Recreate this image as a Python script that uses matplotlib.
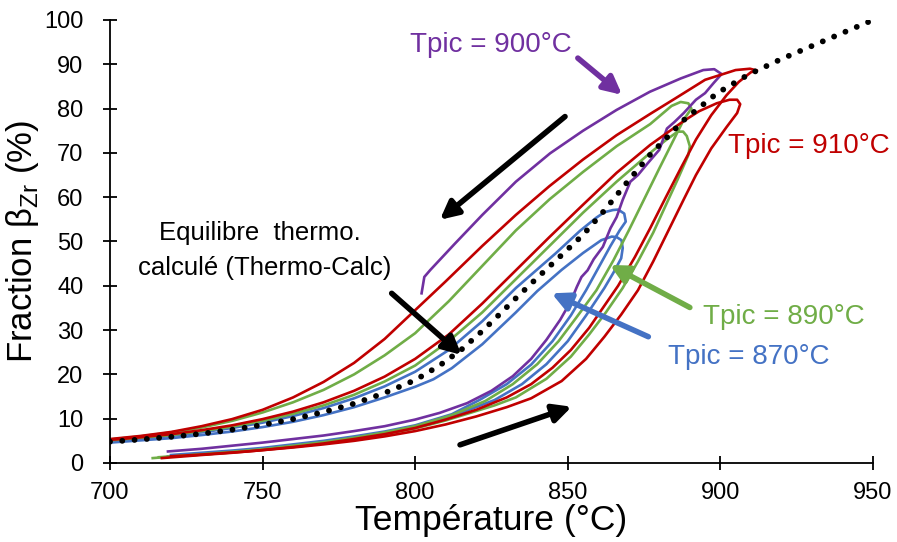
import matplotlib.pyplot as plt

plt.rcParams['font.family'] = ['Liberation Sans', 'DejaVu Sans']

# boucles mesurees : chauffage puis refroidissement (T en degC, fraction en %)
violet900_T = [719, 730, 740, 750, 760, 770, 780, 790, 800, 808, 817, 825, 832, 838, 843, 847.5, 851, 853, 854.5,
               856.5, 858.5, 861.5, 864, 866, 868, 870.5, 873, 876, 880, 882.5, 885, 888, 892, 895, 897.7, 900.4,
               898, 894.4, 887, 876.9, 866, 855, 844.2, 833, 822, 813, 805, 803, 802.1]
violet900_f = [2.6, 3.2, 3.9, 4.6, 5.4, 6.2, 7.2, 8.3, 9.8, 11.3, 13.5, 16.3, 19.6, 23.5, 27.8, 32.3, 36.5, 39.8, 42,
               43.5, 46, 48.8, 53, 55.5, 59.4, 63.5, 65, 67.5, 70.7, 75.5, 77, 79, 82, 83.5, 85.7, 87.8,
               88.9, 88.7, 86.8, 83.8, 79.7, 75, 69.9, 63.5, 56, 49.5, 43.6, 42, 38.3]

rouge910_T = [717, 730, 740, 750, 760, 770, 780, 790, 800, 810, 820, 830, 838, 845, 851, 857, 862, 866.5, 872, 877,
              882, 887, 892, 897, 902, 906, 910, 912,
              909.7, 905, 895, 885, 877, 866, 855, 844, 833, 822, 810, 800, 790, 780, 770, 760, 750, 740, 730,
              720, 710, 700]
rouge910_f = [1.1, 1.8, 2.3, 2.9, 3.6, 4.4, 5.4, 6.5, 7.9, 9.8, 12, 14.8, 17.8, 21.5, 25.5, 30.5, 35.5, 40, 46.5, 53,
              59.8, 66.5, 73, 78.5, 83, 86, 88.2, 88.6,
              89, 88.7, 86.5, 82.2, 78.8, 74, 68.5, 62.5, 56, 49, 41, 34.5, 28, 22.6, 18.3, 14.8, 12, 9.9, 8.3,
              7, 6.1, 5.4]

rouge905_T = [720, 730, 745, 760, 770, 780, 790, 800, 810, 820, 830, 838, 848, 856, 862, 867.5, 873, 878, 883, 888,
              892, 897, 902, 905.5, 906.5, 905.5, 903,
              898.8, 893, 888, 877, 866, 855, 844, 833, 822, 811, 800, 790, 780, 770, 760, 750, 740, 730, 720,
              710, 700]
rouge905_f = [1.5, 1.9, 2.6, 3.5, 4.2, 5, 6, 7.2, 8.7, 10.5, 12.6, 14.6, 18.5, 23.5, 28.5, 33.5, 39, 45.5, 52.5, 59.5,
              65, 71, 75.8, 79, 81, 82, 82,
              81.2, 79.4, 77.2, 71.8, 65.5, 58.3, 51, 43.5, 36, 29, 23.5, 19.5, 16.3, 13.7, 11.6, 9.9, 8.5, 7.4,
              6.5, 5.8, 5.2]

vert890_T = [714, 725, 740, 750, 760, 770, 780, 790, 800, 812, 823, 832, 840, 847, 853, 859.4, 865, 870, 875, 880,
             884, 888, 890.5, 889.5, 887,
             884, 877, 866, 855, 844, 833, 822, 811, 800, 790, 780, 770, 760, 750, 740, 730, 720, 710, 700]
vert890_f = [1.1, 1.7, 2.5, 3.1, 3.9, 4.7, 5.7, 6.9, 8.3, 10.8, 14, 17.8, 22.3, 27.5, 33, 39, 45.8, 52.5, 59.5, 66.5,
             72, 77.5, 80, 81.2, 81.5,
             80.6, 76.5, 71.5, 65.7, 59.5, 52.5, 44.5, 36.5, 29.3, 24.3, 20, 16.5, 13.7, 11.4, 9.5, 8, 6.9, 6,
             5.3]

vert888_T = [716, 730, 740, 750, 760, 770, 780, 790, 800, 810, 818, 826, 833, 843, 851, 857, 862.5, 868, 873, 878,
             882, 886, 889.5, 890, 889, 887.8,
             886, 882, 877, 866, 855, 844, 833, 822, 811, 800, 790, 780, 770, 760, 750, 740, 730, 720, 710, 700]
vert888_f = [1.3, 1.9, 2.4, 3, 3.7, 4.5, 5.4, 6.5, 7.8, 9.6, 11.3, 13, 14.8, 19, 24, 29, 34, 39.5, 45.5, 52,
             58, 64, 69.5, 71.5, 73.8, 74.8,
             74.8, 72.8, 70, 63.5, 56.5, 49, 41.5, 34, 27.5, 22, 18.4, 15.4, 13, 11.1, 9.5, 8.2, 7.2, 6.3, 5.7,
             5.1]

bleu865_T = [720, 730, 740, 750, 760, 770, 780, 790, 800, 812, 821, 830, 838, 845, 851, 856, 860, 864, 867, 869,
             868.5, 866.5, 864.8,
             862, 859.4, 854, 846, 833, 822, 811, 800, 790, 780, 770, 760, 750, 740, 730, 720, 710, 700]
bleu865_f = [1.8, 2.3, 2.8, 3.4, 4.2, 5, 6, 7.1, 8.5, 11, 14.2, 17.8, 22.2, 27.5, 33.3, 39, 44, 49, 52.5, 54.5,
             56.3, 57.2, 57.1,
             56.6, 55.4, 52.4, 47.3, 39.5, 32, 25.5, 20.6, 17.3, 14.6, 12.4, 10.6, 9.1, 7.9, 6.9, 6.1, 5.5, 4.9]

bleu868_T = [719, 730, 740, 750, 760, 770, 780, 790, 800, 813, 826, 835, 843, 850, 856, 862, 865, 867.5, 868,
             867.6, 866, 864.4,
             861, 855, 848, 840, 833, 822, 812, 806, 800, 790, 780, 770, 760, 750, 740, 730, 720, 710, 700]
bleu868_f = [1.5, 2, 2.6, 3.2, 3.9, 4.7, 5.7, 6.8, 8.2, 10.8, 14.2, 17.8, 22.3, 27.5, 33.3, 39.5, 43, 46.2, 48.5,
             50.3, 51, 51.1,
             50.3, 47.4, 43.6, 38.8, 34, 26.8, 21.4, 18.9, 17.2, 14.8, 12.6, 10.8, 9.3, 8.1, 7.1, 6.3, 5.6, 5.1,
             4.6]

# equilibre Thermo-Calc
equi_T = [700, 710, 720, 730, 740, 750, 760, 770, 780, 790, 800, 808, 815, 822, 828, 833, 840, 847, 855, 862, 869,
          877, 888, 899, 909, 920, 935, 950]
equi_f = [4.8, 5.3, 5.9, 6.6, 7.5, 8.6, 9.9, 11.5, 13.4, 15.8, 18.7, 22, 25.5, 29.8, 33.8, 37.2, 41.8, 46.3, 51.5,
          57, 63, 69.6, 77.4, 83.5, 87.6, 91.2, 95.6, 100]

rouge = '#C00000'
vert = '#70AD47'
bleu = '#4472C4'
violet = '#7030A0'

fig = plt.figure(figsize=(8.97, 5.42), dpi=100)
ax = fig.add_axes([0.1226, 0.1458, 0.8506, 0.8173])

lw = 1.9
ax.plot(bleu865_T, bleu865_f, color=bleu, lw=lw)
ax.plot(bleu868_T, bleu868_f, color=bleu, lw=lw)
ax.plot(vert890_T, vert890_f, color=vert, lw=lw)
ax.plot(vert888_T, vert888_f, color=vert, lw=lw)
ax.plot(violet900_T, violet900_f, color=violet, lw=lw)
ax.plot(rouge910_T, rouge910_f, color=rouge, lw=lw)
ax.plot(rouge905_T, rouge905_f, color=rouge, lw=lw)
ax.plot(equi_T, equi_f, color='black', lw=4.2, linestyle=(0, (0.01, 2.1)), dash_capstyle='round')

ax.set_xlim(700, 950)
ax.set_ylim(0, 100)
ax.set_xticks(range(700, 951, 50))
ax.set_yticks(range(0, 101, 10))
for s in ['top', 'right']:
    ax.spines[s].set_visible(False)
for s in ['left', 'bottom']:
    ax.spines[s].set_linewidth(1.3)
ax.tick_params(direction='inout', length=10, width=1.3, labelsize=17)
ax.tick_params(axis='y', pad=14)
ax.tick_params(axis='x', pad=9)
ax.set_xlabel('Température (°C)', fontsize=25.5, labelpad=0)
ax.set_ylabel('Fraction β$_{\\mathregular{Zr}}$ (%)', fontsize=25, labelpad=2)

def fleche(x0, y0, x1, y1, c):
    ax.annotate('', xy=(x1, y1), xytext=(x0, y0),
                arrowprops=dict(arrowstyle='-|>', color=c, lw=4, mutation_scale=27,
                                shrinkA=0, shrinkB=0))

fleche(853.3, 91.4, 867.8, 83.1, violet)
fleche(890, 35.1, 863.8, 44.7, vert)
fleche(876.4, 28.5, 844.7, 38.3, bleu)
fleche(792.3, 38.3, 815.2, 24.4, 'black')
fleche(849.1, 78.2, 808.1, 54.9, 'black')
fleche(814.7, 4.1, 851.3, 12.7, 'black')

ax.text(798.3, 94.4, 'Tpic = 900°C', color=violet, fontsize=20, ha='left', va='center')
ax.text(902.5, 71.6, 'Tpic = 910°C', color=rouge, fontsize=20, ha='left', va='center')
ax.text(894.3, 33, 'Tpic = 890°C', color=vert, fontsize=20, ha='left', va='center')
ax.text(882.9, 24, 'Tpic = 870°C', color=bleu, fontsize=20, ha='left', va='center')
ax.text(749, 51.9, 'Equilibre  thermo.', color='black', fontsize=18.5, ha='center', va='center')
ax.text(750.8, 44, 'calculé (Thermo-Calc)', color='black', fontsize=18.5, ha='center', va='center')

fig.savefig('out.png', dpi=100)
